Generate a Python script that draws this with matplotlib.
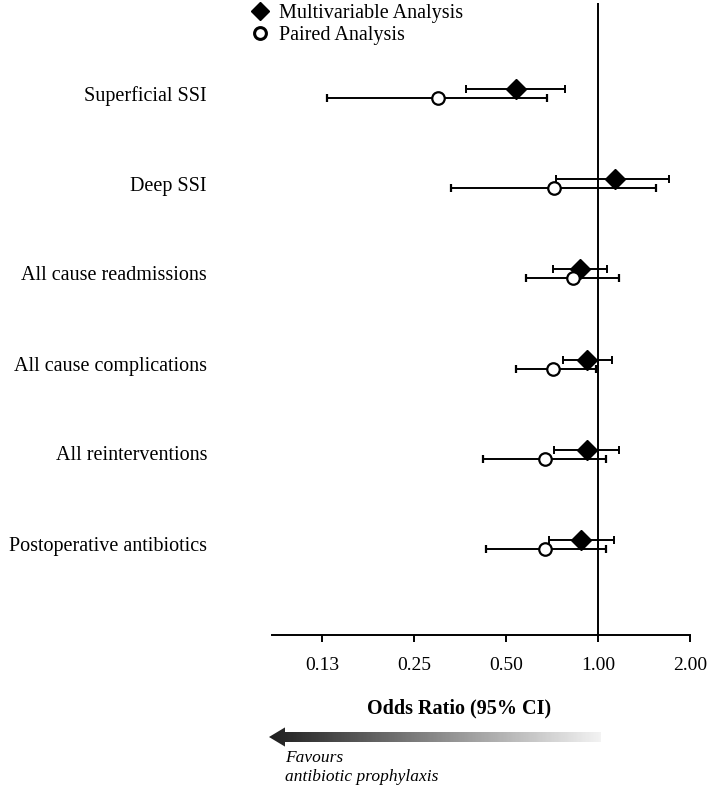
import numpy as np
import matplotlib
matplotlib.use("Agg")
import matplotlib.pyplot as plt
from matplotlib.lines import Line2D
from matplotlib.patches import Polygon

# Data
outcomes = ["Superficial SSI", "Deep SSI", "All cause readmissions",
            "All cause complications", "All reinterventions",
            "Postoperative antibiotics"]

multi_or = [0.54, 1.14, 0.87, 0.92, 0.92, 0.88]
multi_lo = [0.37, 0.73, 0.71, 0.77, 0.72, 0.69]
multi_hi = [0.78, 1.71, 1.07, 1.11, 1.17, 1.13]

paired_or = [0.30, 0.72, 0.83, 0.71, 0.67, 0.67]
paired_lo = [0.13, 0.33, 0.58, 0.54, 0.42, 0.43]
paired_hi = [0.68, 1.55, 1.17, 0.985, 1.06, 1.06]

tick_vals = [0.125, 0.25, 0.5, 1.0, 2.0]
tick_labels = ["0.13", "0.25", "0.50", "1.00", "2.00"]

plt.rcParams["font.family"] = ["Liberation Serif", "DejaVu Serif"]
plt.rcParams["font.size"] = 14

W, H = 708, 786
fig = plt.figure(figsize=(W / 100, H / 100), dpi=100)
ax = fig.add_axes([272 / W, (H - 635) / H, (690 - 272) / W, (635 - 3) / H])

y = np.arange(len(outcomes))
off = 0.05

m_or = np.array(multi_or)
p_or = np.array(paired_or)
ax.errorbar(m_or, y - off,
            xerr=[m_or - np.array(multi_lo), np.array(multi_hi) - m_or],
            fmt="D", color="black", ms=10, elinewidth=1.4, capsize=3.2,
            capthick=1.4, zorder=3)
ax.errorbar(p_or, y + off,
            xerr=[p_or - np.array(paired_lo), np.array(paired_hi) - p_or],
            fmt="o", color="black", mfc="white", mec="black", mew=1.6,
            ms=9, elinewidth=1.4, capsize=3.2, capthick=1.4, zorder=4)

ax.axvline(1.0, color="black", lw=1.4, zorder=1)

ax.set_xscale("log", base=2)
ax.set_xlim(0.0858, 2.0)
ax.set_ylim(6.0, -1.0)
ax.set_xticks(tick_vals)
ax.set_xticklabels(tick_labels)
ax.minorticks_off()
ax.tick_params(axis="x", direction="out", length=5, width=1.4, pad=11)
ax.set_yticks([])
for s in ["top", "right", "left"]:
    ax.spines[s].set_visible(False)
ax.spines["bottom"].set_linewidth(1.4)

# category labels, right aligned
for i, name in enumerate(outcomes):
    fig.text(207 / W, 1 - (96 + 90 * i) / H, name, ha="right", va="center",
             fontsize=14.5)

# legend
handles = [
    Line2D([], [], marker="D", color="black", ls="none", ms=9),
    Line2D([], [], marker="o", color="black", mfc="white", mew=2.2,
           ls="none", ms=8.5),
]
fig.legend(handles, ["Multivariable Analysis", "Paired Analysis"],
           loc="upper left", bbox_to_anchor=(242 / W, 1 + 4 / H),
           frameon=False, handlelength=1.0, handletextpad=0.45,
           labelspacing=0.12, borderaxespad=0, fontsize=14.5)

fig.text(459 / W, 1 - 708 / H, "Odds Ratio (95% CI)", ha="center",
         va="center", fontweight="bold", fontsize=14.5)

# gradient arrow
ax2 = fig.add_axes([269 / W, 1 - 747 / H, (601 - 269) / W, 20 / H])
ax2.set_xlim(0, 1)
ax2.set_ylim(0, 1)
ax2.axis("off")
grad = np.linspace(0.12, 0.95, 256).reshape(1, -1)
img = ax2.imshow(grad, extent=[0, 1, 0, 1], cmap="gray", vmin=0, vmax=1,
                 aspect="auto")
hx = 16 / (601 - 269)
arrow = Polygon([[0, 0.5], [hx, 0.98], [hx, 0.75], [1, 0.75], [1, 0.25],
                 [hx, 0.25], [hx, 0.02]], closed=True, transform=ax2.transData,
                facecolor="none", edgecolor="none")
ax2.add_patch(arrow)
img.set_clip_path(arrow)

fig.text(285 / W, 1 - 758 / H, "Favours", ha="left", va="center",
         style="italic", fontsize=12.5)
fig.text(285 / W, 1 - 777 / H, "antibiotic prophylaxis", ha="left",
         va="center", style="italic", fontsize=12.5)

fig.savefig("out.png", dpi=100)
